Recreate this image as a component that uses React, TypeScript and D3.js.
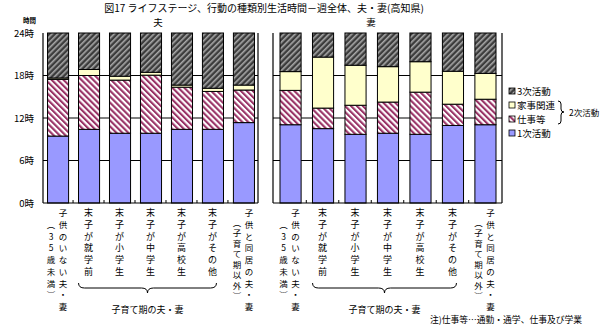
import React from 'react';
import * as d3 from 'd3';

// categories (same for both panels)
const categories = ['c1', 'c2', 'c3', 'c4', 'c5', 'c6', 'c7'];
// main label column and the extra (parenthesised) column on its left
const labelMain = ['子供のいない夫・妻', '末子が就学前', '末子が小学生', '末子が中学生', '末子が高校生', '末子がその他', '子供と同居の夫・妻'];
const labelSub = ['︵35歳未満︶', '', '', '', '', '', '︵子育て期以外︶'];

const seriesNames = ['1次活動', '仕事等', '家事関連', '3次活動'];

// 夫 (hours)
const husPrimary = [9.45, 10.4, 9.85, 9.85, 10.4, 10.4, 11.35];
const husWork = [8.0, 7.6, 7.5, 8.2, 5.95, 5.35, 4.6];
const husHouse = [0.2, 0.85, 0.55, 0.4, 0.3, 0.45, 0.7];
const husTertiary = [6.35, 5.15, 6.1, 5.55, 7.35, 7.8, 7.35];

// 妻 (hours)
const wifePrimary = [11.05, 10.5, 9.7, 9.85, 9.7, 10.95, 11.05];
const wifeWork = [4.85, 2.9, 4.1, 4.4, 5.95, 3.0, 3.6];
const wifeHouse = [2.65, 7.2, 5.65, 5.0, 4.3, 4.65, 3.65];
const wifeTertiary = [5.45, 3.4, 4.55, 4.75, 4.05, 5.4, 5.7];

const yTicks = [0, 6, 12, 18, 24];

const fills: Record<string, string> = {
  '1次活動': '#9999ff',
  '仕事等': 'url(#hatchWork)',
  '家事関連': '#ffffcc',
  '3次活動': 'url(#hatchThird)',
};

const FONT = '"Noto Sans CJK JP", "Noto Sans", sans-serif';

const y = d3.scaleLinear().domain([0, 24]).range([203, 33]);

type Row = { [k: string]: number | string };

function buildRows(a: number[], b: number[], c: number[], d: number[]): Row[] {
  return categories.map((cat, i) => ({
    cat,
    '1次活動': a[i],
    '仕事等': b[i],
    '家事関連': c[i],
    '3次活動': d[i],
  }));
}

const Panel: React.FC<{ rows: Row[]; x0: number; x1: number; padIn: number; padOut: number; title: string; titleX: number }> = ({ rows, x0, x1, padIn, padOut, title, titleX }) => {
  const x = d3.scaleBand().domain(categories).range([x0, x1]).paddingInner(padIn).paddingOuter(padOut);
  const stack = d3.stack<Row>().keys(seriesNames).value((d, k) => d[k] as number);
  const layers = stack(rows);
  const bw = x.bandwidth();
  const step = x.step();
  const rowY = (r: number) => 216 + r * 11.75;

  // brace under the 子育て期 categories
  const bx1 = (x('c2') as number) + bw / 2 - 10;
  const bx2 = (x('c6') as number) + bw / 2 + 4;
  const bm = (bx1 + bx2) / 2;
  const b0 = 283, b1 = 288, b2 = 293;
  const brace = `M${bx1},${b0} Q${bx1},${b1} ${bx1 + 6},${b1} L${bm - 6},${b1} Q${bm},${b1} ${bm},${b2} Q${bm},${b1} ${bm + 6},${b1} L${bx2 - 6},${b1} Q${bx2},${b1} ${bx2},${b0}`;

  return (
    <g>
      {/* gridlines */}
      {[6, 12, 18].map((t) => (
        <line key={t} x1={x0} x2={x1} y1={y(t)} y2={y(t)} stroke="#000" strokeWidth={1} />
      ))}
      {/* bars */}
      {layers.map((layer) => (
        <g key={layer.key}>
          {layer.map((s, i) => (
            <rect
              key={i}
              x={(x(categories[i]) as number) + 0.5}
              y={y(s[1])}
              width={bw}
              height={y(s[0]) - y(s[1])}
              fill={fills[layer.key]}
              stroke="#000"
              strokeWidth={1}
            />
          ))}
        </g>
      ))}
      {/* frame */}
      <line x1={x0} x2={x0} y1={y(24)} y2={y(0)} stroke="#000" strokeWidth={1.2} />
      <line x1={x1} x2={x1} y1={y(24)} y2={y(0)} stroke="#000" strokeWidth={1.2} />
      <line x1={x0} x2={x1} y1={y(0)} y2={y(0)} stroke="#000" strokeWidth={1.2} />
      {categories.slice(1).map((c) => {
        const tx = (x(c) as number) - (step - bw) / 2;
        return <line key={c} x1={tx} x2={tx} y1={y(0)} y2={y(0) - 3} stroke="#000" strokeWidth={1} />;
      })}
      <text x={titleX} y={26} fontSize={9.5} textAnchor="middle" fontFamily={FONT}>{title}</text>
      {/* vertical category labels */}
      {categories.map((c, i) => {
        const cx = (x(c) as number) + bw / 2;
        const hasSub = labelSub[i] !== '';
        const mainX = hasSub ? cx + 5.5 : cx;
        const subChars = Array.from(labelSub[i]);
        const subStart = i === 0 ? 1 : 0.85;
        const subStep = i === 0 ? 11.75 : 10.5;
        return (
          <g key={c} fontFamily={FONT} fontSize={hasSub ? 8.5 : 9} textAnchor="middle">
            {Array.from(labelMain[i]).map((ch, k) => (
              <text key={k} x={mainX} y={rowY(k)}>{ch}</text>
            ))}
            {subChars.map((ch, k) => (
              <text key={'s' + k} x={cx - 6.5} y={216 + subStart * 11.75 + k * subStep}>{ch}</text>
            ))}
          </g>
        );
      })}
      <path d={brace} fill="none" stroke="#000" strokeWidth={1} />
      <text x={bm} y={313} fontSize={9} textAnchor="middle" fontFamily={FONT}>子育て期の夫・妻</text>
    </g>
  );
};

const App: React.FC = () => {
  const husRows = buildRows(husPrimary, husWork, husHouse, husTertiary);
  const wifeRows = buildRows(wifePrimary, wifeWork, wifeHouse, wifeTertiary);
  const legendItems = ['3次活動', '家事関連', '仕事等', '1次活動'];
  const legendY = [91, 105, 119, 133];

  return (
    <svg width={607} height={331} style={{ position: 'absolute', left: 0, top: 0, background: '#fff' }}>
      <defs>
        <pattern id="hatchThird" patternUnits="userSpaceOnUse" width={4} height={4} patternTransform="rotate(45)">
          <rect width={4} height={4} fill="#3c3c3c" />
          <rect width={1.6} height={4} fill="#a8a8a8" />
        </pattern>
        <pattern id="hatchWork" patternUnits="userSpaceOnUse" width={4.2} height={4.2} patternTransform="rotate(-45)">
          <rect width={4.2} height={4.2} fill="#fff" />
          <rect width={2.1} height={4.2} fill="#993366" />
        </pattern>
      </defs>

      <text x={264} y={12} fontSize={10} textAnchor="middle" fontFamily={FONT}>
        図17 ライフステージ、行動の種類別生活時間－週全体、夫・妻(高知県)
      </text>

      {/* y axis labels */}
      <text x={36} y={23} fontSize={6.5} fontWeight="bold" textAnchor="end" fontFamily={FONT}>時間</text>
      {yTicks.map((t) => (
        <text key={t} x={34} y={y(t) + 3.5} fontSize={9.5} textAnchor="end" fontFamily={FONT}>{t}時</text>
      ))}

      <Panel rows={husRows} x0={43} x1={258} padIn={0.32} padOut={0.13} title="夫" titleX={158} />
      <Panel rows={wifeRows} x0={273} x1={502} padIn={0.35} padOut={0.2} title="妻" titleX={371} />

      {/* legend */}
      {legendItems.map((name, i) => (
        <g key={name} fontFamily={FONT}>
          <rect x={509} y={legendY[i] - 3} width={6} height={6} fill={fills[name]} stroke="#000" strokeWidth={0.8} />
          <text x={517} y={legendY[i] + 3.5} fontSize={9.5}>{name}</text>
        </g>
      ))}
      <path d="M558,101 Q561,101 561,104 L561,109 Q561,112 564,112 Q561,112 561,115 L561,121 Q561,124 558,124" fill="none" stroke="#000" strokeWidth={1} />
      <text x={569} y={116} fontSize={8.5} fontFamily={FONT}>2次活動</text>

      <text x={430} y={323} fontSize={9} fontFamily={FONT} textLength={152} lengthAdjust="spacingAndGlyphs">
        注)仕事等…通勤・通学、仕事及び学業
      </text>
    </svg>
  );
};

export default App;
